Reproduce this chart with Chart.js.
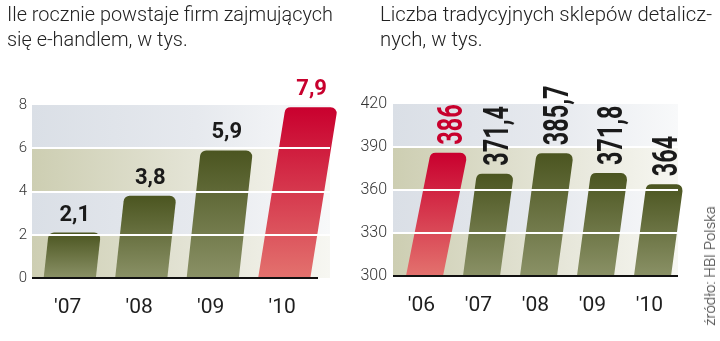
<!DOCTYPE html>
<html>
<head>
<meta charset="utf-8">
<script src="https://cdn.jsdelivr.net/npm/chart.js@4/dist/chart.umd.min.js"></script>
<style>
  html, body { margin:0; padding:0; background:#ffffff; }
  #wrap { position:relative; width:720px; height:341px; overflow:hidden; background:#fff; }
  canvas { position:absolute; top:0; }
  .title { position:absolute; font-family:Roboto, "Noto Sans", sans-serif; font-weight:300; font-size:21px; line-height:25px; color:#222; white-space:nowrap; transform-origin:0 0; }
  .src { position:absolute; font-family:Roboto, "Noto Sans", sans-serif; font-weight:300; font-size:15px; color:#333; white-space:nowrap; transform:translate(-50%,-50%) rotate(-90deg); }
</style>
</head>
<body>
<div id="wrap">
  <canvas id="c1" width="350" height="341" style="left:0px"></canvas>
  <canvas id="c2" width="370" height="341" style="left:350px"></canvas>
  <div class="title" id="t1" style="left:7px;top:2px;">Ile rocznie powstaje firm zajmujących<br>się e-handlem, w tys.</div>
  <div class="title" id="t2" style="left:380px;top:2px;">Liczba tradycyjnych sklepów detalicz-<br>nych, w tys.</div>
  <div class="src" style="left:710px;top:266px;">źródło: HBI Polska</div>
</div>
<script>
// ---- data ----
const leftCategories = ["'07", "'08", "'09", "'10"];
const leftValues = [2.1, 3.8, 5.9, 7.9];
const leftHighlight = 3;
const leftMin = 0, leftMax = 8, leftStep = 2;

const rightCategories = ["'06", "'07", "'08", "'09", "'10"];
const rightValues = [386, 371.4, 385.7, 371.8, 364];
const rightHighlight = 0;
const rightMin = 300, rightMax = 420, rightStep = 30;

// ---- helpers ----
function fmt(v) { return String(v).replace('.', ','); }

const OLIVE_TOP = '#4b5520', OLIVE_BOT = '#8a9166';
const RED_TOP = '#c9002e', RED_BOT = '#e3726e';
const RED_TEXT = '#c8002d';

const bandPlugin = {
  id: 'bands',
  beforeDatasetsDraw(chart) {
    const o = chart.options.plugins.bands;
    const ctx = chart.ctx, ca = chart.chartArea, ys = chart.scales.y;
    const right = ca.right + o.extend;
    let idx = 0;
    for (let v = ys.min; v < ys.max - 1e-9; v += o.step, idx++) {
      const y1 = ys.getPixelForValue(v + o.step), y0 = ys.getPixelForValue(v);
      const g = ctx.createLinearGradient(ca.left, 0, right, 0);
      const c = idx % 2 === 0 ? ['#cdceb2', '#e4e4d6', '#f7f7f2'] : ['#dadfe6', '#e6e9ee', '#f8f9fa'];
      g.addColorStop(0, c[0]); g.addColorStop(0.55, c[1]); g.addColorStop(1, c[2]);
      ctx.fillStyle = g;
      ctx.fillRect(ca.left, y1, right - ca.left, y0 - y1);
    }
  },
  afterDatasetsDraw(chart) {
    const o = chart.options.plugins.bands;
    const ctx = chart.ctx, ca = chart.chartArea, ys = chart.scales.y;
    ctx.save();
    ctx.strokeStyle = '#ffffff'; ctx.lineWidth = 2;
    for (let v = ys.min + o.step; v < ys.max - 1e-9; v += o.step) {
      const y = Math.round(ys.getPixelForValue(v));
      ctx.beginPath(); ctx.moveTo(ca.left, y); ctx.lineTo(ca.right + o.extend, y); ctx.stroke();
    }
    ctx.strokeStyle = '#111'; ctx.lineWidth = 2;
    const yb = ys.getPixelForValue(ys.min);
    ctx.beginPath(); ctx.moveTo(ca.left, yb); ctx.lineTo(ca.right, yb); ctx.stroke();
    ctx.restore();
  }
};

function barGeom(chart, el) {
  const p = el.getProps(['x', 'y', 'base', 'width'], true);
  const bottom = chart.scales.y.getPixelForValue(chart.scales.y.min);
  return { x: p.x, y: p.y, base: Math.min(p.base, bottom), width: p.width };
}

const slantPlugin = {
  id: 'slant',
  beforeDatasetDraw(chart, args) {
    const o = chart.options.plugins.slant;
    const ctx = chart.ctx;
    args.meta.data.forEach((el, i) => {
      const p = barGeom(chart, el);
      const hi = i === o.highlight;
      const slope = hi ? o.redSlope : o.slope;
      const h = p.base - p.y;
      const s = slope * h;
      const x = p.x + o.shift;
      const bl = x - p.width / 2, br = x + p.width / 2;
      const tl = bl + s, tr = br + s;
      const g = ctx.createLinearGradient(0, p.y, 0, p.base);
      g.addColorStop(0, hi ? RED_TOP : OLIVE_TOP);
      g.addColorStop(1, hi ? RED_BOT : OLIVE_BOT);
      ctx.save();
      ctx.fillStyle = g;
      ctx.beginPath();
      ctx.moveTo(bl, p.base);
      ctx.arcTo(tl, p.y, tr, p.y, o.radius);
      ctx.arcTo(tr, p.y, br, p.base, o.radius);
      ctx.lineTo(br, p.base);
      ctx.closePath();
      ctx.fill();
      ctx.restore();
    });
    return false;
  },
  afterDraw(chart) {
    const o = chart.options.plugins.slant;
    const ctx = chart.ctx;
    const meta = chart.getDatasetMeta(0);
    const vals = chart.data.datasets[0].data;
    meta.data.forEach((el, i) => {
      const p = barGeom(chart, el);
      const hi = i === o.highlight;
      const slope = hi ? o.redSlope : o.slope;
      const cx = p.x + o.shift + slope * (p.base - p.y);
      ctx.save();
      ctx.fillStyle = hi ? RED_TEXT : '#1a1a1a';
      ctx.font = 'bold ' + o.fontSize + 'px Roboto, "Noto Sans", sans-serif';
      if (o.rotate) {
        ctx.translate(cx, p.y - o.gap);
        ctx.rotate(-Math.PI / 2);
        ctx.scale(o.squeeze, 1);
        ctx.textAlign = 'left';
        ctx.textBaseline = 'alphabetic';
        ctx.fillText(fmt(vals[i]), 0, o.fontSize * 0.711 / 2);
      } else {
        ctx.textAlign = 'center';
        ctx.textBaseline = 'alphabetic';
        ctx.fillText(fmt(vals[i]), cx, p.y - o.gap);
      }
      ctx.restore();
    });
  }
};

function makeChart(id, cats, vals, hi, mn, mx, st, geo) {
  return new Chart(document.getElementById(id), {
    type: 'bar',
    data: {
      labels: cats,
      datasets: [{ data: vals, backgroundColor: OLIVE_TOP, barPercentage: geo.barPct, categoryPercentage: 1 }]
    },
    options: {
      responsive: false,
      animation: false,
      events: [],
      layout: { padding: { top: geo.top, right: geo.right, left: 0, bottom: 0 } },
      plugins: {
        legend: { display: false },
        tooltip: { enabled: false },
        bands: { step: st, extend: geo.extend },
        slant: { highlight: hi, slope: geo.slope, redSlope: geo.redSlope, shift: geo.shift, radius: geo.radius,
                 fontSize: geo.fontSize, gap: geo.gap, rotate: geo.rotate, squeeze: geo.squeeze }
      },
      scales: {
        x: {
          offset: true,
          grid: { display: false, drawTicks: false },
          border: { display: false },
          ticks: { color: '#1e1e1e', font: { family: 'Roboto', size: 21, weight: '400' }, padding: geo.xPad, maxRotation: 0 },
          afterFit(s) { s.height = geo.xHeight; }
        },
        y: {
          min: mn, max: mx,
          grid: { display: false, drawTicks: false },
          border: { display: false },
          ticks: { stepSize: st, color: '#333', font: { family: 'Roboto', size: geo.yFont, weight: '300' }, padding: geo.yPad },
          afterFit(s) { s.width = geo.yWidth; }
        }
      }
    },
    plugins: [bandPlugin, slantPlugin]
  });
}

makeChart('c1', leftCategories, leftValues, leftHighlight, leftMin, leftMax, leftStep, {
  top: 105, right: 32, xHeight: 63, yWidth: 32, extend: 12, barPct: 0.73,
  slope: 0.11, redSlope: 0.16, shift: 2, radius: 6, fontSize: 22, gap: 12, rotate: false, squeeze: 1,
  xPad: 17, yFont: 15, yPad: 5
});
makeChart('c2', rightCategories, rightValues, rightHighlight, rightMin, rightMax, rightStep, {
  top: 104, right: 42, xHeight: 65, yWidth: 43, extend: 0, barPct: 0.65,
  slope: 0.135, redSlope: 0.2, shift: 3, radius: 6, fontSize: 35, gap: 8, rotate: true, squeeze: 0.67,
  xPad: 17, yFont: 16, yPad: 6
});

function fitTitle(id, target) {
  const el = document.getElementById(id);
  const c = document.createElement('canvas').getContext('2d');
  c.font = '300 21px Roboto';
  const first = el.innerHTML.split('<br>')[0];
  const w = c.measureText(first).width;
  el.style.transform = 'scaleX(' + (target / w) + ')';
}
fitTitle('t1', 326);
fitTitle('t2', 332);
</script>
</body>
</html>
